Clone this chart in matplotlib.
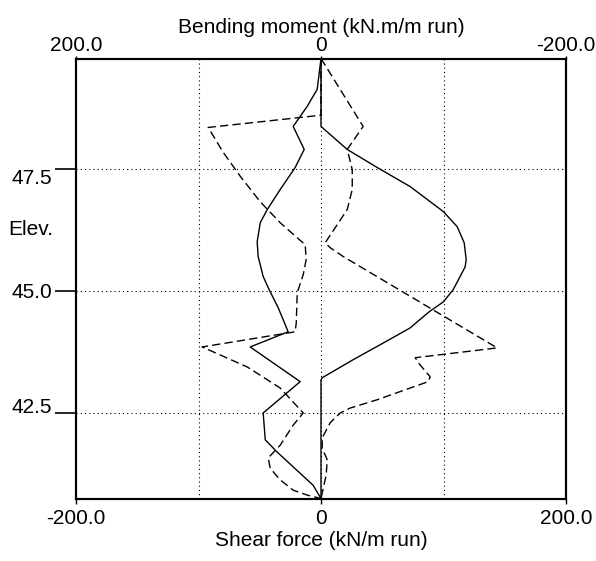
import matplotlib
matplotlib.use("Agg")
import matplotlib.pyplot as plt

plt.rcParams['font.family'] = ['Liberation Sans', 'DejaVu Sans']

# bending moment curves (solid), top axis, kN.m/m run
bm1_elev = [49.75, 48.36, 47.89, 47.52, 47.13, 46.62, 46.31, 45.98, 45.64, 45.49,
            45.02, 44.77, 44.57, 44.24, 43.93, 43.59, 43.22, 43.18, 40.75]
bm1 = [0, 0, -21.4, -45.9, -72.8, -99.8, -111.2, -116.9, -118.5, -117.7,
       -107.9, -99.8, -88.3, -72.8, -50.8, -26.3, -1.0, 0, 0]

bm2_elev = [49.75, 49.12, 48.77, 48.36, 47.89, 47.52, 47.07, 46.66, 46.39, 46.00,
            45.70, 45.29, 45.02, 44.65, 44.16, 43.85, 43.14, 42.50, 41.95, 41.70,
            41.02, 40.75]
bm2 = [0, 3.1, 11.3, 22.7, 13.7, 21.1, 33.3, 43.9, 49.6, 52.1,
       51.3, 47.2, 42.3, 34.9, 26.8, 57.8, 17.0, 47.2, 45.5, 35.8,
       6.4, 0]

# shear force curves (dashed), bottom axis, kN/m run
sf1_elev = [49.75, 48.36, 47.89, 47.48, 47.07, 46.66, 46.35, 45.98, 45.88, 45.70,
            43.83, 43.63, 43.48, 43.24, 43.14, 43.01, 42.77, 42.60, 42.50, 42.30,
            41.99, 41.78, 41.54, 41.23, 40.75]
sf1 = [0, 34.4, 21.4, 25.5, 25.5, 21.4, 13.2, 3.4, 7.5, 18.1,
       143.8, 76.9, 81.0, 89.1, 87.5, 72.8, 45.9, 23.8, 15.7, 7.5,
       1.0, 1.0, 5.1, 4.2, 0]

sf2_elev = [49.75, 48.59, 48.34, 47.83, 47.34, 46.82, 46.39, 45.94, 45.64, 45.33,
            44.96, 44.34, 44.16, 43.85, 43.44, 43.01, 42.50, 42.25, 41.84, 41.58,
            41.37, 41.13, 40.92, 40.82, 40.75]
sf2 = [0, 0, -92.1, -79.8, -65.9, -49.6, -33.3, -12.9, -12.1, -14.5,
       -19.4, -20.2, -21.1, -97.0, -60.2, -33.3, -14.5, -22.7, -33.3, -43.1,
       -41.5, -33.3, -22.7, -11.3, 0]

elev_ticks = [47.5, 45.0, 42.5]
elev_labels = ['47.5', '45.0', '42.5']

W, H = 596, 561
fig = plt.figure(figsize=(W / 100, H / 100), dpi=100)
ax = fig.add_axes([76 / W, 1 - 498.5 / H, (566 - 76) / W, (498.5 - 58.5) / H])
ax.set_xlim(-200, 200)
ax.set_ylim(40.75, 49.75)

dot = (0, (1, 2.8))
for xv in [-100, 0, 100]:
    ax.axvline(xv, color='black', lw=0.8, linestyle=dot, zorder=1)
for yv in elev_ticks:
    ax.axhline(yv, color='black', lw=0.8, linestyle=dot, zorder=1)

ax.plot(sf1, sf1_elev, color='black', lw=1.0, dashes=(6, 3), zorder=3)
ax.plot(sf2, sf2_elev, color='black', lw=1.0, dashes=(6, 3), zorder=3)

ax.set_xticks([-200, 0, 200], ['-200.0', '0', '200.0'])
ax.set_yticks(elev_ticks, elev_labels)
ax.tick_params(axis='x', direction='out', length=3.6, width=1, labelsize=15, pad=4)
ax.tick_params(axis='y', direction='out', length=15, width=1.2, labelsize=15, pad=2)
ax.set_xlabel('Shear force (kN/m run)', fontsize=15, labelpad=2)
vas = ['top', 'center_baseline', 'baseline']
for lab, va in zip(ax.get_yticklabels(), vas):
    lab.set_verticalalignment(va)

ax2 = ax.twiny()
ax2.set_xlim(200, -200)
ax2.plot(bm1, bm1_elev, color='black', lw=1.0, zorder=3)
ax2.plot(bm2, bm2_elev, color='black', lw=1.0, zorder=3)
ax2.set_xticks([200, 0, -200], ['200.0', '0', '-200.0'])
ax2.tick_params(axis='x', direction='out', length=2.5, width=1, labelsize=15, pad=0)
ax2.set_xlabel('Bending moment (kN.m/m run)', fontsize=15, labelpad=2)

for a in (ax, ax2):
    for s in a.spines.values():
        s.set_linewidth(1.5)

fig.text(31 / W, 1 - 230 / H, 'Elev.', fontsize=15, ha='center', va='center')

fig.savefig('out.png', dpi=100)
